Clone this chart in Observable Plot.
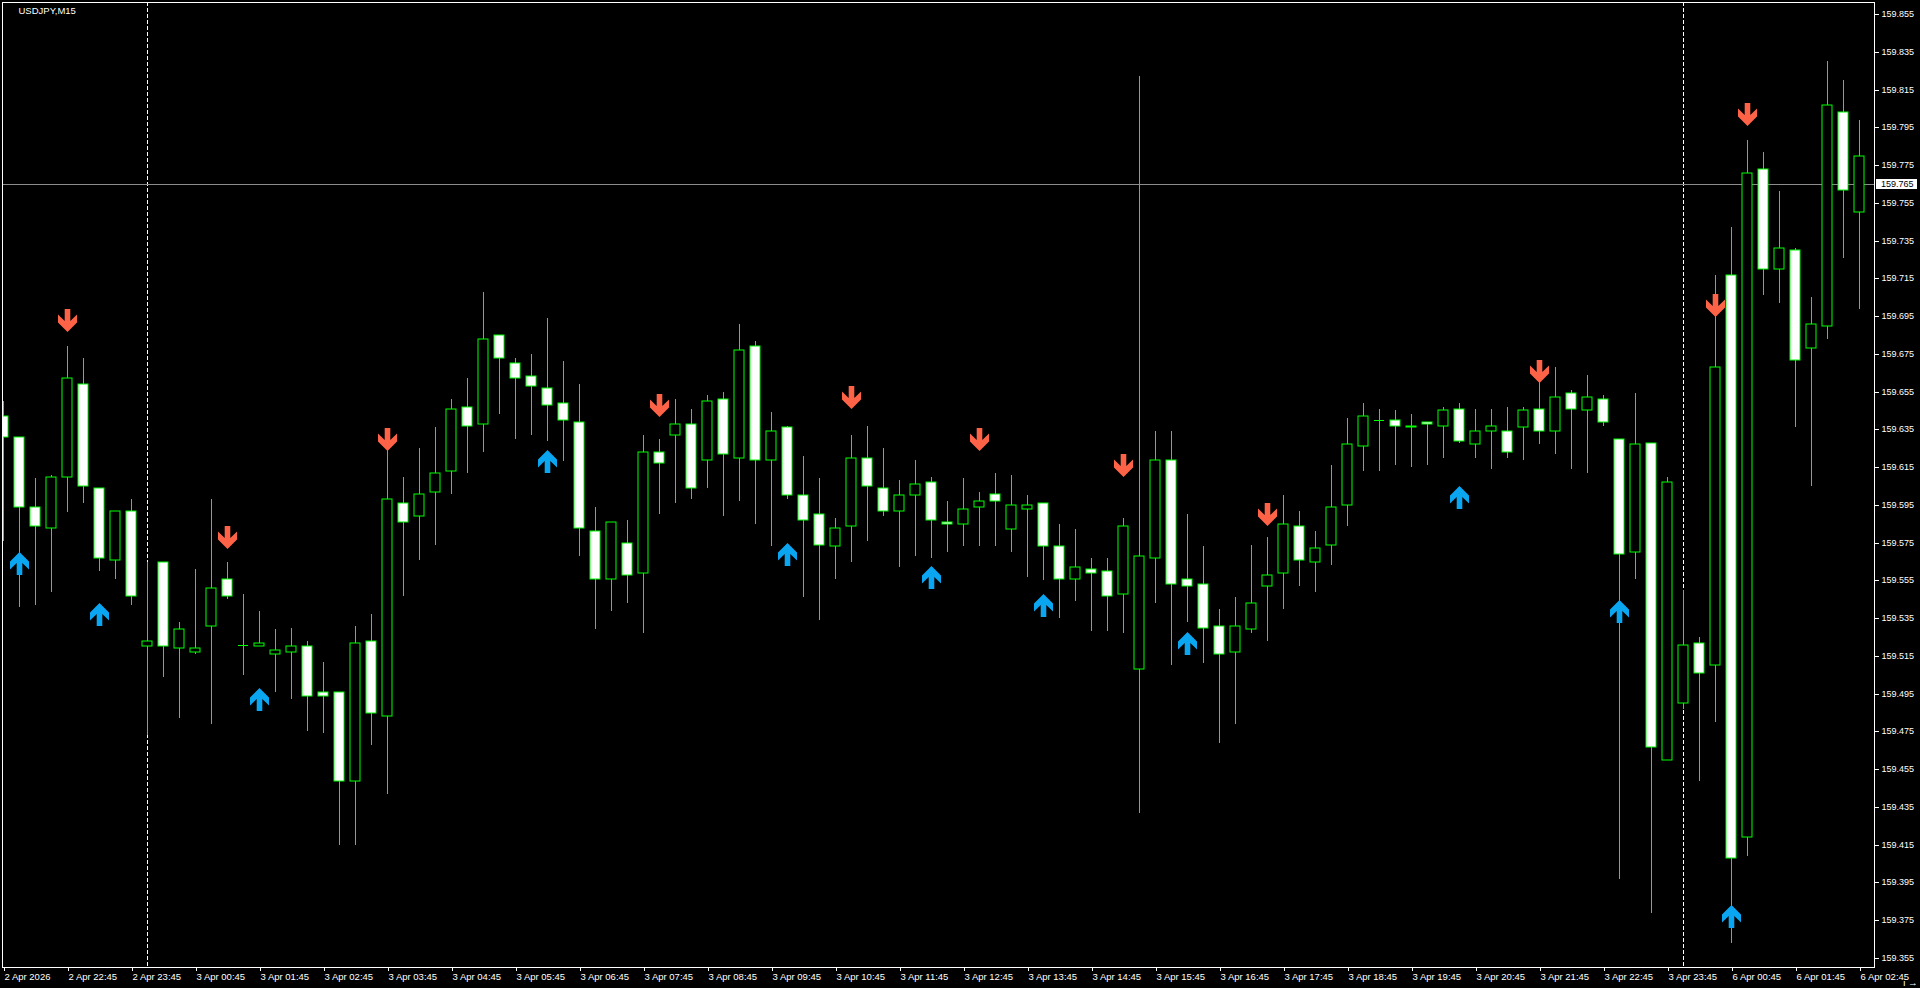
<!DOCTYPE html>
<html><head><meta charset="utf-8">
<script src="https://cdn.jsdelivr.net/npm/d3@7"></script>
<script src="https://cdn.jsdelivr.net/npm/@observablehq/plot@0.6"></script>
<style>
html,body{margin:0;padding:0;background:#000;overflow:hidden;}
#chart svg{display:block;}
</style></head><body><div id="chart"></div>
<script>
const chartTitle = "USDJPY,M15";

const open = [159.642,159.631,159.594,159.583,159.610,159.659,159.604,159.566,159.592,159.520,
159.565,159.519,159.517,159.531,159.556,159.521,159.520,159.516,159.517,159.520,
159.496,159.496,159.449,159.523,159.483,159.596,159.589,159.602,159.613,159.647,
159.638,159.685,159.670,159.663,159.657,159.649,159.639,159.581,159.556,159.575,
159.559,159.623,159.632,159.638,159.619,159.651,159.620,159.679,159.619,159.636,
159.600,159.590,159.573,159.584,159.620,159.604,159.592,159.600,159.607,159.586,
159.585,159.594,159.601,159.582,159.593,159.596,159.573,159.556,159.561,159.560,
159.548,159.508,159.567,159.619,159.556,159.553,159.531,159.517,159.529,159.552,
159.559,159.584,159.565,159.574,159.595,159.626,159.640,159.640,159.636,159.639,
159.637,159.646,159.627,159.634,159.634,159.636,159.646,159.634,159.654,159.645,
159.651,159.630,159.570,159.628,159.460,159.490,159.522,159.510,159.717,159.419,
159.773,159.720,159.730,159.678,159.690,159.803,159.750];

const high = [159.650,159.631,159.609,159.611,159.679,159.673,159.604,159.592,159.598,159.565,
159.565,159.533,159.561,159.598,159.565,159.548,159.539,159.529,159.530,159.523,
159.512,159.496,159.531,159.537,159.624,159.610,159.625,159.636,159.651,159.662,
159.708,159.685,159.673,159.675,159.694,159.671,159.659,159.594,159.586,159.587,
159.632,159.630,159.651,159.646,159.653,159.655,159.691,159.682,159.644,159.637,
159.621,159.609,159.588,159.632,159.637,159.625,159.608,159.619,159.610,159.597,
159.609,159.602,159.612,159.611,159.600,159.596,159.585,159.582,159.567,159.567,
159.588,159.822,159.634,159.634,159.590,159.573,159.540,159.546,159.574,159.578,
159.600,159.592,159.581,159.616,159.641,159.649,159.646,159.645,159.643,159.639,
159.647,159.649,159.646,159.646,159.647,159.647,159.660,159.668,159.656,159.664,
159.653,159.630,159.654,159.628,159.610,159.550,159.525,159.717,159.742,159.788,
159.782,159.761,159.731,159.705,159.830,159.820,159.799];

const low = [159.576,159.541,159.542,159.549,159.591,159.596,159.560,159.556,159.542,159.473,
159.504,159.482,159.516,159.479,159.545,159.505,159.520,159.496,159.492,159.475,
159.474,159.415,159.415,159.468,159.442,159.547,159.566,159.574,159.601,159.612,
159.623,159.643,159.630,159.632,159.629,159.618,159.568,159.529,159.539,159.543,
159.527,159.590,159.596,159.598,159.604,159.589,159.597,159.585,159.573,159.598,
159.546,159.534,159.556,159.565,159.576,159.589,159.562,159.568,159.567,159.570,
159.573,159.573,159.573,159.570,159.557,159.555,159.535,159.544,159.528,159.528,
159.527,159.432,159.543,159.510,159.533,159.511,159.469,159.479,159.527,159.523,
159.540,159.552,159.549,159.563,159.584,159.613,159.613,159.616,159.615,159.616,
159.620,159.628,159.620,159.614,159.620,159.619,159.627,159.622,159.614,159.612,
159.637,159.397,159.556,159.379,159.460,159.487,159.449,159.480,159.363,159.409,
159.706,159.702,159.636,159.605,159.683,159.726,159.699];

const close = [159.631,159.594,159.584,159.610,159.662,159.605,159.567,159.592,159.547,159.523,
159.520,159.529,159.519,159.551,159.547,159.521,159.522,159.518,159.520,159.494,
159.494,159.449,159.522,159.485,159.598,159.586,159.601,159.612,159.646,159.637,
159.683,159.673,159.662,159.658,159.648,159.640,159.583,159.556,159.586,159.558,
159.623,159.617,159.638,159.604,159.650,159.622,159.677,159.619,159.634,159.600,
159.587,159.574,159.583,159.620,159.605,159.592,159.600,159.606,159.587,159.585,
159.593,159.597,159.597,159.595,159.595,159.573,159.556,159.562,159.559,159.547,
159.584,159.568,159.619,159.553,159.552,159.530,159.516,159.531,159.543,159.558,
159.585,159.566,159.572,159.594,159.627,159.642,159.640,159.637,159.637,159.638,
159.645,159.629,159.634,159.637,159.623,159.645,159.634,159.652,159.646,159.652,
159.639,159.569,159.627,159.467,159.607,159.521,159.506,159.668,159.408,159.771,
159.720,159.731,159.672,159.691,159.807,159.762,159.780];

// Signal arrows (bar index and price level where the arrow is drawn)
const upBars = [1, 6, 16, 34, 49, 58, 65, 74, 91, 101, 108];
const upPrices = [159.564, 159.537, 159.492, 159.618, 159.569, 159.557, 159.542, 159.522, 159.599, 159.539, 159.377];
const downBars = [4, 14, 24, 41, 53, 61, 70, 79, 96, 107, 109];
const downPrices = [159.693, 159.578, 159.630, 159.648, 159.652, 159.630, 159.616, 159.590, 159.666, 159.701, 159.802];

// Time axis (M15 bars, one label per hour)
const tickBars = [0,4,8,12,16,20,24,28,32,36,40,44,48,52,56,60,64,68,72,76,80,84,88,92,96,100,104,108,112,116];
const tickLabels = ["2 Apr 2026","2 Apr 22:45","2 Apr 23:45",
"3 Apr 00:45","3 Apr 01:45","3 Apr 02:45","3 Apr 03:45","3 Apr 04:45","3 Apr 05:45","3 Apr 06:45","3 Apr 07:45",
"3 Apr 08:45","3 Apr 09:45","3 Apr 10:45","3 Apr 11:45","3 Apr 12:45","3 Apr 13:45","3 Apr 14:45","3 Apr 15:45",
"3 Apr 16:45","3 Apr 17:45","3 Apr 18:45","3 Apr 19:45","3 Apr 20:45","3 Apr 21:45","3 Apr 22:45","3 Apr 23:45",
"6 Apr 00:45","6 Apr 01:45","6 Apr 02:45"];

// Price axis ticks
const priceTicks = [159.355,159.375,159.395,159.415,159.435,159.455,159.475,159.495,159.515,159.535,
159.555,159.575,159.595,159.615,159.635,159.655,159.675,159.695,159.715,159.735,
159.755,159.775,159.795,159.815,159.835,159.855];

const daySeparators = [9, 105];
const bidPrice = 159.765;

// ---- build table for the library ----
const bars = open.map((o, k) => ({i: k, open: o, high: high[k], low: low[k], close: close[k]}));
const dojis = bars.filter(d => Math.abs(d.open - d.close) < 0.0006);
const upArrows = upBars.map((b, k) => ({i: b, p: upPrices[k]}));
const downArrows = downBars.map((b, k) => ({i: b, p: downPrices[k]}));
const labelOf = new Map(tickBars.map((b, k) => [b, tickLabels[k]]));

function polySymbol(pts) {
  return {draw(ctx) {
    ctx.moveTo(pts[0][0], pts[0][1]);
    for (let k = 1; k < pts.length; k++) ctx.lineTo(pts[k][0], pts[k][1]);
    ctx.closePath();
  }};
}
const downShape = [[-2.8,-11.5],[2.8,-11.5],[2.8,0.5],[9.5,-6],[9.5,2],[0,11.5],[-9.5,2],[-9.5,-6],[-2.8,0.5]];
const arrowDown = polySymbol(downShape);
const arrowUp = polySymbol(downShape.map(([x, y]) => [x, -y]));

const LIME = "#00FF00";
const half = 5 / 16;

const chart = Plot.plot({
  width: 1920,
  height: 988,
  marginLeft: 2,
  marginTop: 2,
  marginRight: 46,
  marginBottom: 21,
  style: {background: "#000", color: "#fff", fontFamily: "'Liberation Sans', Arial, sans-serif", fontSize: "9.5px"},
  x: {type: "linear", domain: [-1 / 16, 1871 / 16], round: true},
  y: {type: "linear", domain: [159.355 - 9 / 1888, 159.855 + 12 / 1888], round: true},
  marks: [
    Plot.ruleX(daySeparators, {x: d => d, stroke: "#fff", strokeDasharray: "4,2"}),
    Plot.ruleY([bidPrice], {y: d => d, stroke: "#8c8c8c"}),
    Plot.ruleX(bars, {x: "i", y1: "low", y2: "high", stroke: LIME, clip: true}),
    Plot.rect(bars, {
      x1: d => d.i - half, x2: d => d.i + half,
      y1: "open", y2: "close",
      fill: d => d.close >= d.open ? "#000" : "#fff",
      stroke: LIME, strokeWidth: 1, clip: true
    }),
    Plot.ruleY(dojis, {y: "open", x1: d => d.i - half - 0.03, x2: d => d.i + half + 0.03, stroke: LIME, clip: true}),
    Plot.dot(upArrows, {x: "i", y: "p", symbol: arrowUp, fill: "#0AA6F2", stroke: "none", r: 5}),
    Plot.dot(downArrows, {x: "i", y: "p", symbol: arrowDown, fill: "#FF6347", stroke: "none", r: 5}),
    Plot.frame({stroke: "#fff"}),
    Plot.axisY(priceTicks, {anchor: "right", tickSize: 4, tickPadding: 3, tickFormat: d => d.toFixed(3), fontSize: 9}),
    Plot.axisX(tickBars, {anchor: "bottom", tickSize: 4, tickPadding: 2, tickFormat: d => labelOf.get(d), textAnchor: "start", dx: 1, fontSize: 9.5}),
    Plot.text([chartTitle], {frameAnchor: "top-left", dx: 16, dy: 5, textAnchor: "start", lineAnchor: "top", fill: "#fff", fontSize: 9.5}),
    (index, scales, values, dims) => {
      const y = Math.round(scales.y(bidPrice));
      const x0 = dims.width - dims.marginRight + 2;
      const g = d3.create("svg:g");
      g.append("rect").attr("x", x0).attr("y", y - 5).attr("width", 41).attr("height", 10).attr("fill", "#fff");
      g.append("text").attr("x", x0 + 5).attr("y", y).attr("dy", "0.35em")
        .attr("text-anchor", "start").attr("font-size", 9).attr("fill", "#000").text(bidPrice.toFixed(3));
      return g.node();
    }
  ]
});
document.getElementById("chart").appendChild(chart);
</script>
</body></html>
